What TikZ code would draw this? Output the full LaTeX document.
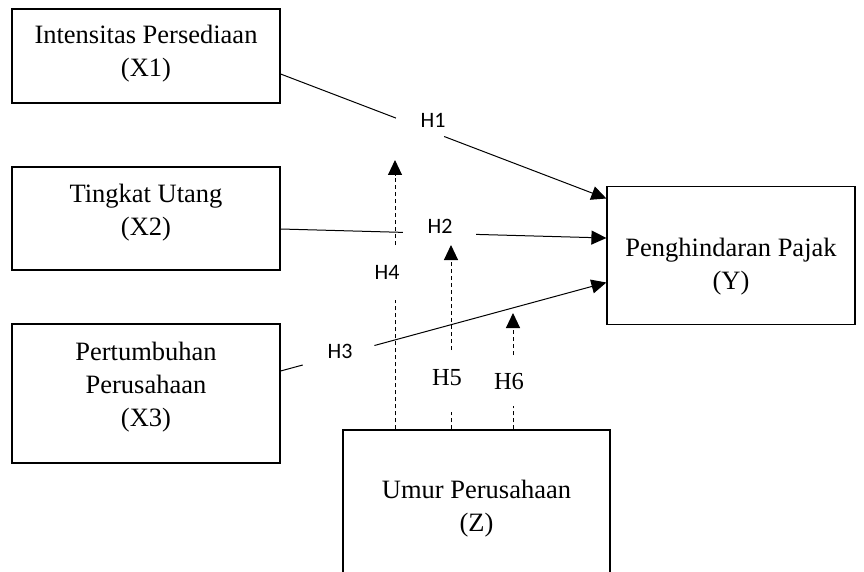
\documentclass[tikz,border=0pt]{standalone}
\usepackage{fontspec}
\setmainfont{Liberation Serif}
\newfontfamily\calib{Carlito}
\usetikzlibrary{arrows.meta,calc}
\begin{document}
\begin{tikzpicture}[x=1pt,y=-1pt,
 box/.style={draw, line width=1.2pt, rectangle, inner sep=0pt},
 btext/.style={align=center, inner sep=0pt, font=\fontsize{26.5}{33}\selectfont},
 link/.style={line width=1pt},
 tip/.style={-{Triangle[length=15pt,width=14pt]}},
 dsh/.style={line width=1pt, dash pattern=on 4pt off 3pt},
 hs/.style={font=\calib\fontsize{22}{26}\selectfont, inner sep=0pt},
 ht/.style={font=\fontsize{24.5}{28}\selectfont, inner sep=0pt}]
\useasboundingbox (0,0) rectangle (864,572);
\clip (0,0) rectangle (864,572);
% boxes
\node[box, minimum width=268pt, minimum height=94pt] (x1) at (146,56) {};
\node[btext] (x1t) at (146,54) {Intensitas Persediaan\\(X1)};
\node[box, minimum width=268pt, minimum height=103pt] (x2) at (146,218.5) {};
\node[btext] (x2t) at (146,213) {Tingkat Utang\\(X2)};
\node[box, minimum width=268pt, minimum height=139pt] (x3) at (146,393.5) {};
\node[btext] (x3t) at (146,387.5) {Pertumbuhan\\Perusahaan\\(X3)};
\node[box, minimum width=248pt, minimum height=138pt] (y) at (731,255.5) {};
\node[btext] (yt) at (731,266.3) {Penghindaran Pajak\\(Y)};
\node[box, minimum width=267pt, minimum height=160pt] (z) at (476.5,510) {};
\node[btext] (zt) at (476.5,508.3) {Umur Perusahaan\\(Z)};
% H1
\coordinate (s1) at (x1.east |- 0,74);
\coordinate (e1) at (y.west |- 0,198.5);
\draw[link] (s1) -- ($(s1)!0.354!(e1)$) coordinate (g1a);
\draw[link,tip] ($(s1)!0.502!(e1)$) coordinate (g1b) -- (e1);
\node[hs] (h1) at (433,120) {H1};
% H2
\coordinate (s2) at (x2.east |- 0,229);
\coordinate (e2) at (y.west |- 0,238);
\draw[link] (s2) -- ($(s2)!0.375!(e2)$) coordinate (g2a);
\draw[link,tip] ($(s2)!0.6!(e2)$) coordinate (g2b) -- (e2);
\node[hs] (h2) at (440,226) {H2};
% H3
\coordinate (s3) at (x3.east |- 0,371);
\coordinate (e3) at (y.west |- 0,282.5);
\draw[link] (s3) -- ($(s3)!0.068!(e3)$) coordinate (g3a);
\draw[link,tip] ($(s3)!0.288!(e3)$) coordinate (g3b) -- (e3);
\node[hs] (h3) at (340,351) {H3};
% H4
\coordinate (h4a) at (395,300);
\coordinate (h4b) at (395,245);
\coordinate (h4t) at (395,160);
\draw[dsh] (z.north -| h4a) -- (h4a);
\draw[dsh,tip] (h4b) -- (h4t);
\node[hs] (h4) at (387,272) {H4};
% H5
\coordinate (h5a) at (451,412);
\coordinate (h5b) at (451,350);
\coordinate (h5t) at (451,245);
\draw[dsh] (z.north -| h5a) -- (h5a);
\draw[dsh,tip] (h5b) -- (h5t);
\node[ht] (h5) at (447,378) {H5};
% H6
\coordinate (h6a) at (513,406);
\coordinate (h6b) at (513,355);
\coordinate (h6t) at (513,313);
\draw[dsh] (z.north -| h6a) -- (h6a);
\draw[dsh,tip] (h6b) -- (h6t);
\node[ht] (h6) at (509,382) {H6};
\end{tikzpicture}
\end{document}
